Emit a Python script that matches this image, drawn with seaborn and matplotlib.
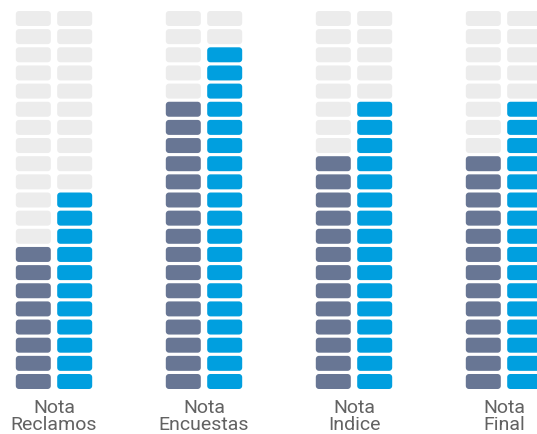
import numpy as np
import pandas as pd
import matplotlib
matplotlib.use("Agg")
import matplotlib.pyplot as plt
from matplotlib.path import Path
import seaborn as sns

categories = ["Nota\nReclamos", "Nota\nEncuestas", "Nota\nIndice", "Nota\nFinal"]
serie_a = [8, 16, 13, 13]     # columna gris azulado
serie_b = [11, 19, 16, 16]    # columna azul
n_seg = 21

col_empty = "#ececec"
col_a = "#687694"
col_b = "#009fdf"

# tabla de segmentos
rows = []
for i, cat in enumerate(categories):
    for name, vals, off in [("a", serie_a, -0.138), ("b", serie_b, 0.138)]:
        for lvl in range(1, n_seg + 1):
            rows.append({"x": i + off, "nivel": lvl,
                         "estado": name if lvl <= vals[i] else "vacio"})
df = pd.DataFrame(rows)


def rounded_rect(w=1.0, h=15 / 35, r=0.09, n=8):
    # marcador rectangular con esquinas redondeadas
    pts = []
    corners = [(w / 2 - r, h / 2 - r, 0), (-w / 2 + r, h / 2 - r, 90),
               (-w / 2 + r, -h / 2 + r, 180), (w / 2 - r, -h / 2 + r, 270)]
    for cx, cy, a0 in corners:
        t = np.radians(np.linspace(a0, a0 + 90, n))
        pts += list(zip(cx + r * np.cos(t), cy + r * np.sin(t)))
    pts.append(pts[0])
    return Path(pts, closed=True)


sns.set_theme(style="white")
plt.rcParams['font.family'] = ['Roboto', 'DejaVu Sans']

fig = plt.figure(figsize=(5.37, 4.35), dpi=100)
ax = fig.add_axes([0, 40 / 435, 1, 395 / 435])

sns.scatterplot(data=df, x="x", y="nivel", hue="estado",
                palette={"vacio": col_empty, "a": col_a, "b": col_b},
                marker=rounded_rect(), s=(35 * 0.72) ** 2, linewidth=0,
                legend=False, ax=ax)

ax.set_xlim(-0.36, 3.22)
ax.set_ylim(1 - 12.5 / 18.15, n_seg + 19.5 / 18.15)
ax.set_xticks(range(len(categories)))
ax.set_xticklabels(categories, fontsize=14, color="#626262",
                   linespacing=0.92)
ax.tick_params(axis="x", length=0, pad=3)
ax.set_yticks([])
ax.set_xlabel("")
ax.set_ylabel("")
sns.despine(left=True, bottom=True)

fig.savefig("out.png", dpi=100)
